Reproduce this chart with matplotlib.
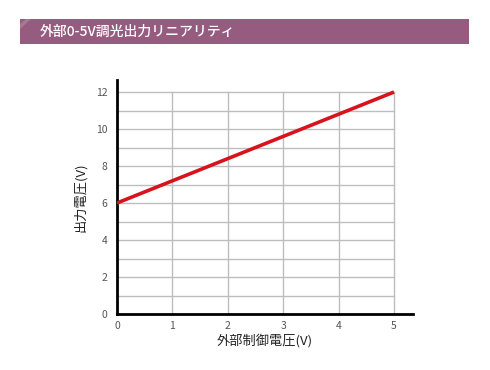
import matplotlib
matplotlib.use("Agg")
import matplotlib.pyplot as plt
from matplotlib.patches import Rectangle, Polygon

plt.rcParams['font.family'] = ['Noto Sans CJK JP', 'DejaVu Sans']

x_vals = [0, 5]
y_vals = [6, 12]
x_ticks = [0, 1, 2, 3, 4, 5]
y_ticks = [0, 2, 4, 6, 8, 10, 12]
y_grid = list(range(0, 13))
title = "外部0-5V調光出力リニアリティ"
xlabel = "外部制御電圧(V)"
ylabel = "出力電圧(V)"

W, H = 490, 370
fig = plt.figure(figsize=(W / 100, H / 100), dpi=100)

# banner
fig.patches.append(Rectangle((20 / W, (H - 44) / H), 449 / W, 25 / H,
                             transform=fig.transFigure, facecolor="#955c7f",
                             edgecolor="none", zorder=0))
fig.patches.append(Polygon([(20 / W, (H - 29) / H), (20 / W, (H - 24) / H),
                            (26 / W, (H - 19) / H), (31 / W, (H - 19) / H)],
                           closed=True, transform=fig.transFigure,
                           facecolor="#a9798c", edgecolor="none", zorder=1))
fig.text(40 / W, (H - 32) / H, title, color="white", fontsize=10,
         fontweight="medium", va="center", ha="left")

ax = fig.add_axes([117 / W, 56 / H, 296 / W, 234 / H])
ax.set_xlim(0, 5.343)
ax.set_ylim(0, 12.65)

for yv in y_grid:
    ax.plot([0, 5], [yv, yv], color="#bdbdbd", lw=1, zorder=1)
for xv in x_ticks:
    ax.plot([xv, xv], [0, 12], color="#bdbdbd", lw=1, zorder=1)

ax.plot(x_vals, y_vals, color="#d7141e", lw=2.6, zorder=3, solid_capstyle="butt")

for s in ["top", "right"]:
    ax.spines[s].set_visible(False)
for s in ["left", "bottom"]:
    ax.spines[s].set_linewidth(2)
    ax.spines[s].set_color("black")

ax.set_xticks(x_ticks)
ax.set_yticks(y_ticks)
ax.tick_params(length=0, labelsize=7.5, colors="#555555", pad=5)
ax.tick_params(axis="y", pad=7)
ax.set_xlabel(xlabel, fontsize=9.5, color="#222222", labelpad=2)
ax.set_ylabel(ylabel, fontsize=9.5, color="#222222", labelpad=6)

fig.savefig("out.png", dpi=100)
